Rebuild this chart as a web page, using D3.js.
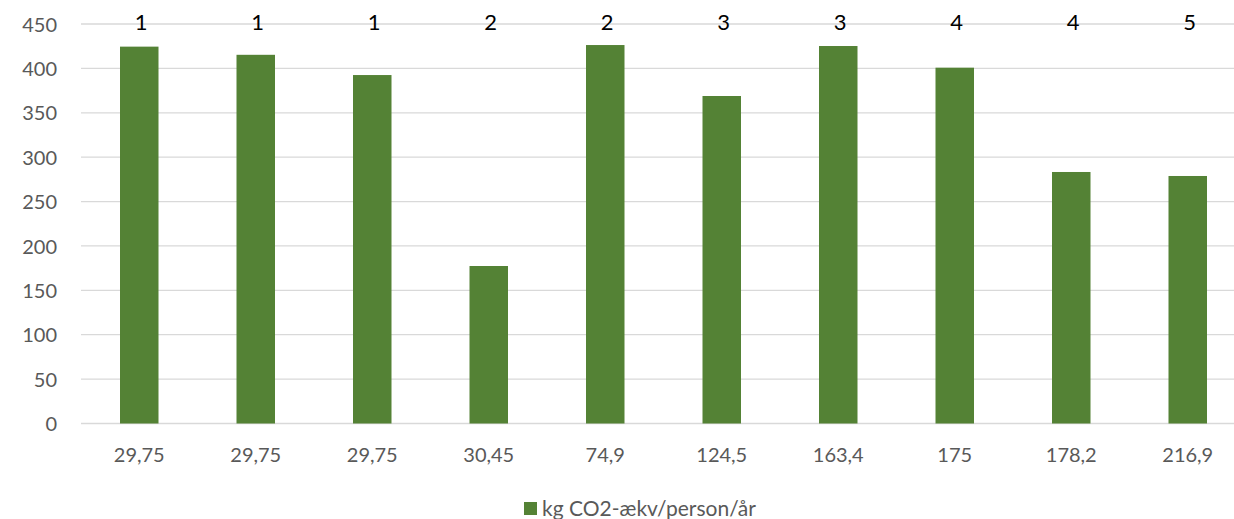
<!DOCTYPE html>
<html><head><meta charset="utf-8">
<script src="https://cdn.jsdelivr.net/npm/d3@7"></script>
<style>body{margin:0;background:#fff;overflow:hidden}svg{display:block;font-family:Lato,"Open Sans",sans-serif}</style>
</head><body>
<svg id="c" width="1234" height="519"></svg>
<script>
const categories = ["29,75","29,75","29,75","30,45","74,9","124,5","163,4","175","178,2","216,9"];
const groupLabels = ["1","1","1","2","2","3","3","4","4","5"];
const values = [424.5, 415.3, 392.5, 177.4, 426.3, 368.9, 425.2, 400.8, 283.3, 278.8];
const yTicks = [0,50,100,150,200,250,300,350,400,450];
const seriesName = "kg CO2-ækv/person/år";

const svg = d3.select("#c");
const x0 = 81, x1 = 1246, yTop = 24, yBot = 423.5;
const idx = categories.map((d,i)=>i);
const x = d3.scaleBand().domain(idx).range([x0,x1]).paddingInner(0.67).paddingOuter(0.335);
const y = d3.scaleLinear().domain([0,450]).range([yBot,yTop]);

// gridlines
svg.append("g").selectAll("line").data(yTicks).join("line")
  .attr("x1",x0).attr("x2",x1)
  .attr("y1",d=>y(d)).attr("y2",d=>y(d))
  .attr("stroke","#d9d9d9").attr("stroke-width",1.3);

// y axis labels
const yAxis = d3.axisLeft(y).tickValues(yTicks).tickSize(0).tickPadding(0);
const gy = svg.append("g").attr("transform","translate(57,0)").call(yAxis);
gy.select(".domain").remove();
gy.selectAll("text").attr("fill","#595959").style("font-size","20px").attr("dy","0.36em").style("font-family","Lato");

// bars
const bw = 38.5;
svg.append("g").selectAll("rect").data(values).join("rect")
  .attr("x",(d,i)=>x(i)+x.bandwidth()/2-bw/2)
  .attr("width",bw)
  .attr("y",d=>y(d)).attr("height",d=>yBot-y(d))
  .attr("fill","#548235");

// x axis labels
const xAxis = d3.axisBottom(x).tickSize(0).tickPadding(0).tickFormat(i=>categories[i]);
const gx = svg.append("g").attr("transform","translate(0,462)").call(xAxis);
gx.select(".domain").remove();
gx.selectAll("text").attr("fill","#595959").style("font-size","20px").attr("dy","0").style("font-family","Lato");

// top group labels
svg.append("g").selectAll("text").data(groupLabels).join("text")
  .attr("x",(d,i)=>x(i)+x.bandwidth()/2+2)
  .attr("y",29.5)
  .attr("text-anchor","middle")
  .attr("fill","#000").style("font-size","22px")
  .text(d=>d);

// legend
const lg = svg.append("g");
lg.append("rect").attr("x",524).attr("y",502).attr("width",13).attr("height",13).attr("fill","#548235");
lg.append("text").attr("x",542).attr("y",516).attr("fill","#595959").style("font-size","21px").text(seriesName);
</script>
</body></html>
